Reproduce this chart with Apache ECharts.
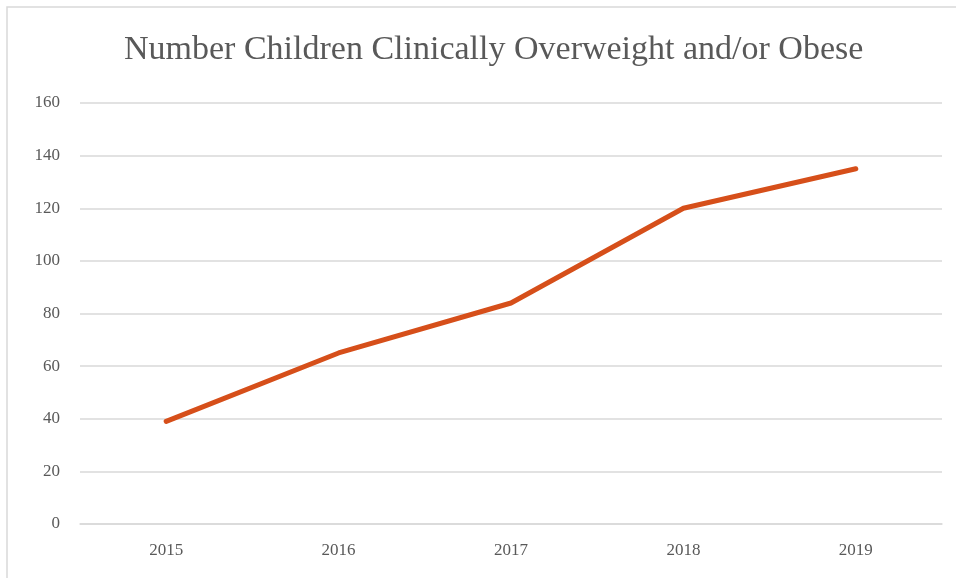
<!DOCTYPE html>
<html>
<head>
<meta charset="utf-8">
<script src="https://cdn.jsdelivr.net/npm/echarts@6/dist/echarts.min.js"></script>
<style>
  html, body { margin: 0; padding: 0; background: #fff; }
  #main { width: 956px; height: 578px; }
</style>
</head>
<body>
<div id="main"></div>
<script>
var years = ["2015", "2016", "2017", "2018", "2019"];
var children = [39, 65, 84, 120, 135];

var myChart = echarts.init(document.getElementById("main"));
var font = "'Liberation Serif', 'DejaVu Serif', serif";
var option = {
  backgroundColor: "#fff",
  animation: false,
  graphic: [
    {
      type: "rect",
      shape: { x: 7, y: 7, width: 960, height: 580 },
      style: { fill: "none", stroke: "#d9d9d9", lineWidth: 1.5 },
      silent: true
    }
  ],
  title: {
    text: "Number Children Clinically Overweight and/or Obese",
    left: 119,
    top: 28,
    textStyle: {
      fontFamily: font,
      fontSize: 34,
      fontWeight: "normal",
      color: "#595959"
    }
  },
  grid: {
    left: 80,
    right: 14,
    top: 103,
    bottom: 54
  },
  xAxis: {
    type: "category",
    data: years,
    boundaryGap: true,
    axisLine: { lineStyle: { color: "#d9d9d9", width: 1.5 } },
    axisTick: { show: false },
    axisLabel: {
      fontFamily: font,
      fontSize: 17,
      color: "#595959",
      margin: 18
    }
  },
  yAxis: {
    type: "value",
    min: 0,
    max: 160,
    interval: 20,
    axisLine: { show: false },
    axisTick: { show: false },
    splitLine: { lineStyle: { color: "#d9d9d9", width: 1.5 } },
    axisLabel: {
      fontFamily: font,
      fontSize: 17,
      color: "#595959",
      margin: 20
    }
  },
  series: [
    {
      name: "Children",
      type: "line",
      data: children,
      symbol: "none",
      lineStyle: { color: "#d64f1a", width: 5, cap: "round", join: "round" }
    }
  ]
};
myChart.setOption(option);
</script>
</body>
</html>
